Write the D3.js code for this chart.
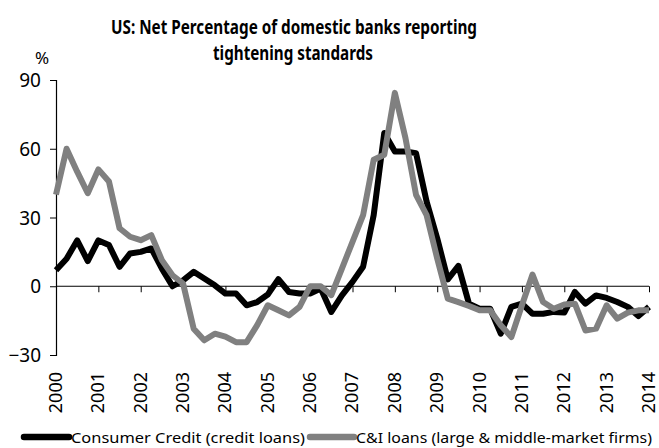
<!DOCTYPE html>
<html>
<head>
<meta charset="utf-8">
<script src="https://cdn.jsdelivr.net/npm/d3@7"></script>
<style>
  html, body { margin: 0; padding: 0; background: #fff; }
  svg text { font-family: "Noto Sans", "Open Sans", "DejaVu Sans", sans-serif; fill: #000; }
</style>
</head>
<body>
<svg id="chart" width="659" height="448"></svg>
<script>
// Quarterly survey readings, 2000Q1 .. 2014Q1 (net % of banks tightening)
const years = d3.range(2000, 2015);
const yTicks = [-30, 0, 30, 60, 90];

const consumerCredit = [
  7, 12, 20, 11, 20, 18, 8.5, 14.3, 15, 16.5,
  7.7, 0, 2.6, 6.3, 3.4, 0.4, -3.2, -3.2, -8.3, -6.9,
  -3.6, 3.1, -2.5, -3.2, -3.2, -1, -11.2, -4, 1.9, 8.5,
  31, 66.9, 58.8, 58.8, 58.1, 36.9, 20.9, 3, 8.9, -7.6,
  -9.8, -9.8, -20.7, -9, -7.6, -12, -12, -11.2, -11.5, -2.5,
  -7.6, -4, -5.1, -6.9, -9, -13, -9
];

const ciLoans = [
  40, 60, 50, 40.6, 51, 45.7, 25.3, 21.6, 20.1, 22.3,
  11.4, 4.8, 1.2, -18.5, -23.6, -20.7, -22, -24.4, -24.4, -17,
  -8.3, -10.5, -12.7, -9, 0, 0, -3.9, 7.7, 19.4, 31,
  55.2, 57.4, 84.4, 64.7, 39.9, 31, 12.1, -5.4, -6.9, -8.6,
  -10.5, -10.5, -17, -22.2, -8.3, 5.1, -6.9, -9.8, -8, -7.6,
  -19.3, -18.5, -8.3, -14.1, -11.5, -10.5, -10.5
];

const seriesNames = ["Consumer Credit (credit loans)", "C&I loans (large & middle-market firms)"];
const seriesColors = ["#000000", "#808080"];

const svg = d3.select("#chart");

const x = d3.scaleLinear().domain([0, consumerCredit.length - 1]).range([56, 649]);
const y = d3.scaleLinear().domain([-30, 90]).range([355, 80]);

// Title
const title = svg.append("g").attr("font-weight", "bold");
title.append("text").attr("x", 294).attr("y", 34).attr("text-anchor", "middle")
  .attr("font-size", 19).attr("textLength", 366).attr("lengthAdjust", "spacingAndGlyphs")
  .text("US: Net Percentage of domestic banks reporting");
title.append("text").attr("x", 293).attr("y", 60).attr("text-anchor", "middle")
  .attr("font-size", 19).attr("textLength", 160).attr("lengthAdjust", "spacingAndGlyphs")
  .text("tightening standards");

// Unit label
svg.append("text").attr("x", 42).attr("y", 64).attr("text-anchor", "middle")
  .attr("font-size", 17).text("%");

// Y axis
const yAxis = d3.axisLeft(y).tickValues(yTicks).tickSize(6).tickPadding(9).tickFormat(d3.format("d"));
const gy = svg.append("g").attr("transform", "translate(56,0)").call(yAxis);
gy.select(".domain").attr("stroke", "#000").attr("stroke-width", 1.2);
gy.selectAll(".tick line").attr("stroke", "#000");
gy.selectAll(".tick text").attr("font-size", 19).attr("font-family", "Noto Sans, sans-serif").attr("dy", "0.35em");

// Category axis along the zero line
const tickIdx = years.map((yr, i) => i * 4);
const xAxis = d3.axisBottom(x).tickValues(tickIdx).tickSize(6).tickFormat("");
const gx = svg.append("g").attr("transform", `translate(0,${y(0)})`).call(xAxis);
gx.select(".domain").attr("stroke", "#000").attr("stroke-width", 1.2).attr("d", `M${x(0)},0H${x(56)}`);
gx.selectAll(".tick line").attr("stroke", "#000").attr("stroke-width", 1)
  .filter(d => d === 0).remove();

// Year labels at the bottom, rotated
svg.append("g").selectAll("text").data(years).join("text")
  .attr("transform", (d, i) => `translate(${x(i * 4)},372) rotate(-90)`)
  .attr("text-anchor", "end").attr("dy", "0.33em")
  .attr("font-size", 18).text(d => d);

// Lines (C&I drawn last so it sits on top)
const line = d3.line().x((d, i) => x(i)).y(d => y(d));
[consumerCredit, ciLoans].forEach((s, k) => {
  svg.append("path").datum(s)
    .attr("d", line)
    .attr("fill", "none")
    .attr("stroke", seriesColors[k])
    .attr("stroke-width", 6)
    .attr("stroke-linejoin", "round");
});

// Legend
const legend = svg.append("g");
const legendItems = [
  { x0: 24, x1: 69, tx: 71, tl: 234 },
  { x0: 310, x1: 354, tx: 356, tl: 296 }
];
legendItems.forEach((it, k) => {
  legend.append("line").attr("x1", it.x0).attr("x2", it.x1).attr("y1", 437).attr("y2", 437)
    .attr("stroke", seriesColors[k]).attr("stroke-width", 6.5).attr("stroke-linecap", "round");
  legend.append("text").attr("x", it.tx).attr("y", 443).attr("font-size", 15)
    .attr("textLength", it.tl).attr("lengthAdjust", "spacingAndGlyphs")
    .text(seriesNames[k]);
});
</script>
</body>
</html>
